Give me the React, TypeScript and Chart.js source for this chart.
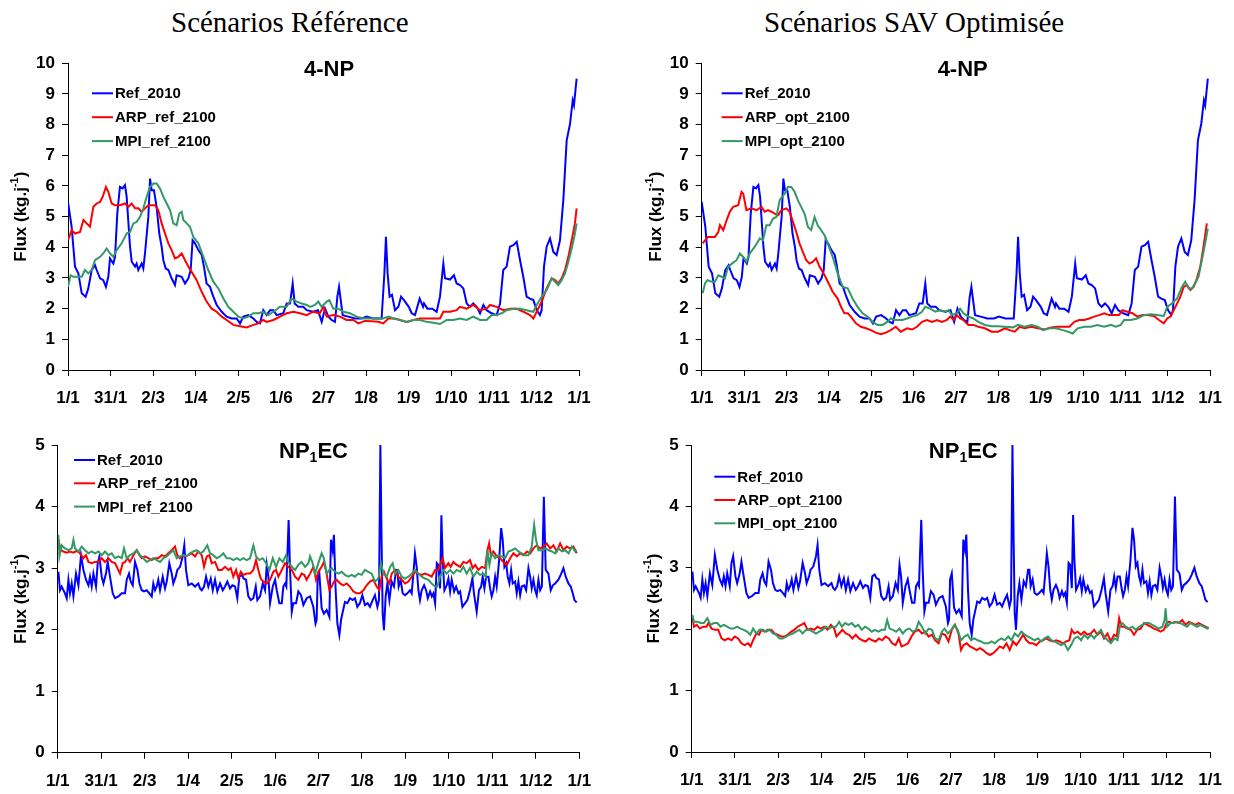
import React, { useEffect, useRef } from "react";
import { Chart, registerables } from "chart.js";

Chart.register(...registerables);

type Pt = [number, number];

const FONT = "'Liberation Sans', Arial, Helvetica, sans-serif";
const SERIF = "'Liberation Serif', 'Times New Roman', serif";

const xTickLabels = ["1/1", "31/1", "2/3", "1/4", "2/5", "1/6", "2/7", "1/8", "1/9", "1/10", "1/11", "1/12", "1/1"];
const daysInYear = 365;

const namesRef = ["Ref_2010", "ARP_ref_2100", "MPI_ref_2100"];
const namesOpt = ["Ref_2010", "ARP_opt_2100", "MPI_opt_2100"];
const seriesColors = ["#0000FF", "#FF0000", "#339966"];

// ---------- 4-NP ----------
const ref2010_4np: Pt[] = [[0,5.48],[2.6,4.67],[5,3.37],[7.4,3.15],[9.8,2.5],[12.6,2.39],[14.5,2.66],[16.9,3.26],[19.3,3.42],[20.5,3.26],[22.9,2.99],[25.2,2.93],[27.1,2.71],[28.8,3.04],[30,3.64],[32.4,3.47],[33.6,3.69],[35.2,5.1],[37.1,5.97],[39,5.92],[40.7,6.03],[41.9,5.65],[44.3,4.02],[45.5,3.53],[47.9,3.37],[49,3.47],[50.2,3.26],[52.6,3.47],[53.8,3.31],[55,3.8],[57.4,5.0],[58.6,6.24],[59.8,5.86],[61.4,5.86],[63.3,5.32],[65.2,4.45],[66.9,4.02],[68.1,3.58],[69.8,3.31],[71.7,3.26],[74,2.99],[76.4,2.77],[77.6,3.09],[81.2,3.04],[83.6,2.82],[86,2.99],[87.6,3.26],[89,4.23],[90.7,4.13],[93.1,3.91],[95.5,3.75],[97.1,3.37],[99,2.82],[101.4,2.71],[103.8,2.39],[106.2,2.12],[109.8,1.9],[113.3,1.74],[116.9,1.68],[120.5,1.68],[122.9,1.52],[125.2,1.74],[128.8,1.79],[132.4,1.68],[134.8,1.57],[137.1,1.52],[139.5,1.95],[141.9,1.79],[144.3,1.95],[146.7,1.95],[149,1.79],[153.8,1.85],[156.2,2.17],[158.6,2.17],[160.5,2.82],[161.9,2.17],[164.5,2.06],[168,2.06],[170.5,1.95],[175,1.9],[178.6,1.95],[181.2,1.57],[183.6,2.0],[186,1.74],[188.3,1.63],[190.7,1.57],[192.4,2.39],[193.6,2.71],[194.8,2.28],[196.2,1.79],[200.2,1.74],[205,1.68],[209.8,1.68],[213.3,1.74],[218,1.68],[224,1.68],[226,3.15],[227.1,4.34],[228.3,3.15],[229.7,2.39],[231.4,2.45],[233.6,1.95],[236,2.06],[237.9,2.39],[240,2.28],[243.4,2.06],[245.5,1.85],[247.9,1.79],[251.2,2.33],[253.6,2.06],[254.3,2.17],[256.7,2.0],[260.2,2.0],[263.3,1.9],[265.7,2.39],[268.1,3.47],[269.3,2.99],[272.9,2.95],[275.7,3.09],[277.6,2.82],[280,2.77],[282.4,2.66],[284.8,2.17],[287.1,2.06],[289.5,2.17],[291.9,2.06],[294.3,1.85],[296.7,2.12],[299,1.95],[302.6,1.85],[306.2,1.79],[308.6,2.17],[310.9,3.26],[313.3,3.37],[315.7,4.02],[318.1,4.07],[320.5,4.18],[322.9,3.58],[325.2,3.04],[327.6,2.39],[330,2.33],[332.4,2.28],[334.8,1.95],[337.1,1.79],[338.3,1.95],[340,3.37],[341.9,4.02],[344.3,4.29],[346.7,3.85],[349,3.75],[351.4,4.23],[353.8,5.54],[356.2,7.49],[358.6,8.03],[360.5,8.79],[361.4,8.63],[363.3,9.5]];

const arpRef_4np: Pt[] = [[0,4.23],[2.6,4.56],[5,4.45],[8.6,4.5],[11,4.89],[13.3,4.78],[15.7,4.67],[18.1,5.32],[20.5,5.43],[22.9,5.48],[24.8,5.65],[27.1,5.97],[28.8,5.81],[31.2,5.43],[33.6,5.37],[37.1,5.37],[40.7,5.43],[43.1,5.32],[45.5,5.43],[47.9,5.27],[50.2,5.27],[52.6,5.16],[55,5.27],[57.4,5.37],[59.8,5.37],[62.1,5.37],[64.5,5.21],[66.9,4.78],[69.3,4.45],[71.7,4.13],[74,3.91],[76.4,3.64],[78.8,3.69],[81.2,3.8],[83.6,3.58],[86,3.37],[88.3,3.2],[91.9,2.93],[95.5,2.55],[99,2.23],[102.6,2.0],[106.2,1.9],[109.8,1.74],[113.3,1.63],[118.1,1.47],[122.9,1.43],[127.6,1.39],[132.4,1.47],[136,1.52],[139.5,1.63],[141.9,1.57],[146.7,1.63],[151.4,1.74],[156.2,1.85],[161,1.9],[165.7,1.85],[170.5,1.79],[175,1.9],[179.8,1.85],[182.4,2.06],[184.8,1.74],[189.5,1.79],[194.3,1.74],[199,1.63],[203.8,1.63],[207.4,1.52],[212.1,1.6],[216.9,1.59],[221.7,1.57],[225.2,1.52],[228.8,1.68],[233.6,1.68],[237.1,1.63],[241.9,1.57],[246.7,1.63],[251.4,1.68],[256.2,1.68],[260.9,1.68],[265.7,1.68],[268.1,1.9],[272.9,1.9],[277.6,1.95],[280,2.06],[284.8,2.0],[289.5,2.12],[294.3,1.95],[299,2.0],[301.4,2.12],[306.2,2.06],[310.9,1.95],[315.7,2.0],[320.5,2.0],[325.2,1.9],[330,1.79],[332.4,1.68],[334.8,1.9],[338.3,2.23],[341.9,2.66],[345.5,2.99],[347.9,2.93],[350.2,2.82],[352.6,2.99],[355,3.26],[357.4,3.69],[359.8,4.23],[362.1,4.78],[363.3,5.27]];

const mpiRef_4np: Pt[] = [[0,2.71],[1.9,3.09],[3.8,3.04],[7.4,3.04],[9.8,3.04],[12.1,3.26],[14.5,3.15],[16.9,3.26],[19.3,3.58],[22.9,3.69],[25.2,3.8],[27.6,3.96],[30,3.8],[32.4,3.69],[34.8,3.91],[38.3,4.13],[41.9,4.45],[44.3,4.5],[46.7,4.78],[49,4.83],[51.4,4.99],[53.8,5.27],[56.2,5.65],[58.6,5.97],[61,6.08],[63.3,6.08],[65.7,5.92],[68.1,5.65],[70.5,5.43],[72.9,5.21],[75.2,4.78],[77.6,4.72],[79.5,5.1],[81.2,5.16],[82.4,4.89],[84.8,4.78],[87.1,4.67],[89.5,4.34],[93.1,4.13],[96.7,3.69],[100.2,3.26],[103.8,2.88],[107.4,2.66],[111,2.33],[114.5,2.06],[118.1,1.9],[121.7,1.74],[125.2,1.68],[128.8,1.74],[132.4,1.85],[136,1.85],[139.5,1.9],[143.1,1.79],[146.7,1.9],[151.4,2.06],[156.2,2.06],[159.8,2.33],[163.3,2.23],[166.9,2.17],[170.5,2.12],[172.9,2.06],[176.4,2.12],[178.8,2.23],[181.2,2.06],[184.8,2.23],[186.7,2.28],[189.5,2.0],[193,2.0],[196.7,1.9],[201.4,1.85],[206.2,1.74],[211,1.68],[220.5,1.68],[225.2,1.68],[228.8,1.74],[232.4,1.68],[237.1,1.63],[241.9,1.57],[246.7,1.63],[251.4,1.63],[256.2,1.57],[260.9,1.54],[265.7,1.5],[270.5,1.63],[275.2,1.63],[280,1.68],[284.8,1.63],[289.5,1.74],[294.3,1.63],[299,1.63],[302.6,1.79],[306.2,1.79],[309.8,1.85],[313.3,1.95],[318.1,2.0],[322.9,2.0],[327.6,1.95],[332.4,1.9],[334.8,2.12],[338.3,2.39],[341.9,2.61],[345.5,2.99],[347.9,2.88],[350.2,2.77],[352.6,2.93],[355,3.15],[357.4,3.53],[359.8,3.96],[362.1,4.45],[363.3,4.78]];

const arpOpt_4np: Pt[] = [[0.7,4.13],[2.4,4.23],[4.4,4.34],[6,4.34],[9.5,4.34],[11.9,4.5],[13.1,4.72],[15.5,4.56],[17.9,4.89],[20.2,5.16],[22.6,5.32],[26.2,5.37],[28.6,5.81],[29.8,5.75],[32.1,5.21],[35.7,5.27],[39.3,5.21],[42.9,5.32],[45.2,5.16],[47.6,5.21],[50,5.16],[52.4,5.1],[54.8,5.05],[57.1,5.21],[60.7,5.27],[63.1,5.16],[65.5,4.83],[67.9,4.5],[70.2,4.13],[72.6,3.85],[75,3.58],[77.4,3.47],[79.8,3.53],[82.1,3.64],[84.5,3.37],[86.9,3.2],[89.3,2.99],[91.7,2.77],[94,2.55],[97.6,2.33],[100,2.06],[102.4,1.85],[104.8,1.85],[107.1,1.74],[110.7,1.52],[114.3,1.41],[117.9,1.36],[121.4,1.3],[125,1.22],[128.6,1.17],[132.1,1.22],[135.7,1.3],[139.3,1.41],[142.9,1.25],[147.4,1.36],[151,1.32],[154.6,1.41],[158.1,1.57],[161.7,1.63],[165.3,1.57],[168.9,1.63],[172.4,1.57],[176,1.63],[178.4,1.74],[180.8,1.63],[183.1,1.79],[185.5,1.68],[187.9,1.63],[191.4,1.47],[195,1.47],[198.6,1.41],[203.3,1.36],[208.1,1.25],[212.8,1.25],[217.6,1.36],[221.1,1.3],[224.7,1.25],[228.3,1.41],[231.8,1.36],[236.6,1.41],[241.3,1.36],[246.1,1.32],[250.8,1.39],[255.6,1.41],[260.4,1.41],[263.9,1.41],[267.5,1.57],[271,1.63],[274.6,1.63],[278.2,1.68],[281.8,1.74],[285.4,1.79],[288.9,1.85],[292.5,1.79],[296.1,1.79],[299.6,1.79],[302,1.95],[305.6,1.9],[309.2,1.85],[312.7,1.74],[316.3,1.79],[319.8,1.79],[324.6,1.76],[328.2,1.63],[331.7,1.52],[334.1,1.68],[336.5,1.74],[340.1,2.06],[343.6,2.39],[346,2.71],[348.4,2.77],[350.8,2.61],[353.1,2.71],[355.5,2.99],[357.9,3.37],[360.2,4.02],[362.6,4.78]];

const mpiOpt_4np: Pt[] = [[0.7,2.5],[2.4,2.82],[4.1,2.93],[7.1,2.88],[9.5,2.88],[11.9,3.09],[14.3,3.04],[16.7,2.99],[19,3.37],[22.6,3.5],[25,3.58],[27.4,3.8],[29.8,3.69],[32.1,3.53],[34.5,3.8],[38.1,4.02],[41.7,4.29],[44,4.23],[46.4,4.72],[48.8,4.72],[51.2,4.94],[53.6,4.99],[56,5.54],[59.5,5.75],[61.9,5.97],[64.3,5.97],[66.7,5.81],[69,5.54],[71.4,5.32],[73.8,5.1],[76.2,4.67],[78.6,4.56],[81,4.99],[83.3,4.72],[85.7,4.56],[88.1,4.4],[90.5,4.13],[94,3.69],[97.6,3.15],[101.2,2.71],[104.8,2.66],[108.3,2.33],[111.9,2.06],[115.5,1.85],[119,1.74],[122.6,1.57],[126.2,1.47],[129.8,1.47],[133.3,1.57],[135.7,1.68],[139.3,1.63],[143.8,1.63],[147.4,1.68],[151,1.74],[154.6,1.79],[158.1,1.9],[160.4,2.06],[164,2.0],[167.6,1.9],[171.1,1.95],[174.6,1.9],[177.2,1.95],[179.5,1.79],[183.1,1.85],[185.5,2.0],[187.9,1.85],[191.4,1.74],[195,1.68],[198.6,1.57],[203.3,1.47],[208.1,1.43],[212.8,1.43],[217.6,1.41],[223.5,1.39],[227.1,1.47],[231.8,1.41],[236.6,1.47],[241.3,1.41],[244.9,1.3],[249.7,1.36],[254.4,1.36],[259.2,1.3],[262.7,1.25],[266.3,1.19],[269.9,1.36],[274.6,1.41],[279.4,1.41],[284.1,1.47],[288.9,1.41],[293.7,1.47],[297.2,1.41],[300.8,1.47],[303.2,1.63],[307.9,1.63],[312.7,1.68],[317.4,1.79],[322.2,1.82],[326.9,1.79],[331.7,1.76],[334.1,2.06],[337.6,2.17],[341.2,2.33],[344.7,2.71],[347.1,2.88],[349.5,2.66],[351.9,2.66],[354.2,2.82],[356.6,3.04],[359,3.58],[361.4,4.13],[363.3,4.61]];

// ---------- NP1EC ----------
const ref2010_np1ec: Pt[] = [[0.5,2.94],[1.6,2.64],[2.8,2.7],[5.1,2.59],[6.3,2.51],[7.5,2.81],[8.6,2.59],[9.8,2.75],[11,2.54],[12.8,2.91],[14.5,2.72],[16.3,3.21],[18,2.97],[19.8,2.81],[21.5,2.72],[22.6,2.86],[23.8,2.7],[25,2.91],[26.8,2.7],[28,3.08],[29.2,3.19],[30.8,2.86],[32,2.75],[33.8,2.91],[35,3.1],[36.6,2.86],[38.5,2.59],[40.1,2.51],[42.5,2.54],[44.8,2.59],[47.1,2.59],[48.3,2.81],[49.9,2.91],[51.1,2.78],[52.5,2.72],[54.1,3.1],[55.8,2.97],[57.2,2.75],[58.8,2.64],[60.4,2.62],[62.3,2.64],[64.1,2.59],[65.8,2.54],[66.9,2.75],[68.1,2.64],[69.3,2.7],[70.4,2.81],[71.6,2.64],[73.5,2.86],[75.1,2.67],[76.3,2.78],[78.1,3.08],[79.8,2.91],[80.9,2.75],[82.6,2.86],[83.7,2.97],[85.6,3.02],[87.5,3.19],[88.6,3.37],[89.8,2.97],[91.4,2.72],[93.8,2.75],[96.1,2.7],[98.4,2.75],[99.6,2.67],[100.8,2.64],[102.4,2.7],[103.8,2.86],[105.4,2.7],[107.1,2.83],[108.5,2.64],[110.1,2.81],[111.7,2.62],[113.6,2.75],[115.5,2.64],[117.1,2.7],[118.7,2.78],[120.6,2.67],[122.2,2.72],[124.1,2.7],[125.7,2.51],[127.1,2.86],[128.8,2.89],[130.1,2.83],[131.8,2.81],[133.4,2.54],[135.1,2.48],[136.9,2.51],[138.6,2.7],[139.7,2.48],[141.6,2.54],[143.5,2.75],[145.1,2.64],[146.3,3.05],[147.4,2.86],[148.6,2.43],[150.5,2.7],[152.1,2.81],[153.3,2.64],[155.1,2.43],[156.8,2.43],[157.9,2.7],[159.1,2.75],[160,2.7],[160.7,3.19],[161.6,3.78],[162.6,2.97],[163.8,2.29],[164.9,2.43],[166.8,2.43],[168.4,2.62],[170.3,2.56],[171.9,2.4],[174.2,2.51],[176.6,2.54],[178.9,2.37],[180.4,2.1],[181.2,2.16],[181.9,2.81],[183.1,2.91],[184.7,2.35],[186.3,2.26],[188.2,2.32],[190.1,2.21],[191.2,3.46],[192.4,3.29],[193.3,3.54],[194.5,2.64],[195.7,2.1],[197.1,1.91],[198.3,2.16],[199.5,2.29],[201,2.45],[202.7,2.43],[204.5,2.51],[206.4,2.48],[208,2.51],[209.7,2.37],[211.5,2.43],[213.2,2.56],[215,2.4],[216.9,2.43],[218.5,2.37],[220.4,2.48],[222,2.56],[223.7,2.37],[224.8,2.48],[225.8,5.0],[226.7,3.35],[227.4,2.26],[228.3,1.99],[229.5,2.54],[230.7,2.75],[232.1,2.48],[233.7,2.78],[235.3,2.7],[236.8,2.97],[237.7,2.97],[238.6,2.7],[240,2.81],[241.4,2.59],[243,2.56],[244.7,2.59],[246.5,2.64],[247.7,2.59],[248.9,2.91],[250,3.24],[251.2,3.02],[252.4,2.64],[253.5,2.48],[254.7,2.64],[256.4,2.72],[257.8,2.64],[259,2.51],[260.6,2.62],[261.8,2.54],[262.9,2.59],[264.1,2.43],[265.3,3.08],[266.4,3.05],[267.6,2.67],[268.5,3.86],[269.4,3.13],[270.6,2.64],[272.2,2.72],[273.4,2.83],[274.6,2.62],[275.7,2.81],[277.4,2.62],[278.8,2.7],[280.4,2.59],[281.6,2.62],[283.2,2.37],[285.1,2.43],[286.7,2.48],[288.5,2.64],[290.2,2.83],[291.3,2.59],[293.2,2.29],[294.8,2.64],[296.3,2.7],[297.4,2.86],[298.6,2.67],[299.8,2.86],[301.4,2.86],[302.6,2.67],[303.7,2.54],[304.9,2.64],[306.1,2.86],[307.2,2.7],[308.9,3.13],[310.3,3.65],[311.4,3.46],[312.6,3.02],[313.8,3.08],[314.9,2.86],[316.1,2.75],[317.3,2.97],[318.4,2.75],[320.1,2.78],[321.2,2.59],[322.4,2.78],[323.6,2.56],[324.7,2.7],[326.4,2.72],[327.8,2.64],[329.4,3.0],[330.6,2.86],[331.7,2.67],[332.9,2.81],[334.1,2.64],[335.2,2.56],[336.4,2.81],[337.6,2.64],[338.8,2.7],[340.2,4.16],[341.5,2.97],[343.4,2.91],[345,2.64],[346.5,2.72],[348.1,2.75],[350.4,2.81],[352,2.89],[353.9,3.0],[355.5,2.86],[357.4,2.75],[359,2.7],[360.4,2.59],[361.6,2.48],[363.2,2.44]];

const arpRef_np1ec: Pt[] = [[0.5,3.46],[2.1,3.29],[4,3.27],[6.3,3.25],[8.6,3.27],[11,3.25],[13.3,3.28],[15.6,3.24],[18,3.16],[19.8,3.21],[21.5,3.1],[23.8,3.08],[26.1,3.1],[28.5,3.1],[30.8,3.16],[33.1,3.1],[35.5,3.16],[37.8,3.1],[40.1,3.08],[41.8,3.0],[43.6,2.91],[45.5,3.08],[47.1,3.1],[48.8,3.16],[50.6,3.1],[53,3.21],[55.3,3.29],[57.2,3.21],[58.8,3.16],[61.1,3.19],[63.4,3.16],[65.8,3.13],[68.1,3.16],[70.4,3.16],[72.8,3.21],[75.1,3.19],[77.4,3.24],[79.8,3.29],[82.1,3.35],[83.7,3.21],[85.6,3.16],[87.5,3.21],[89.1,3.19],[91.4,3.21],[93.8,3.24],[96.1,3.19],[98.4,3.27],[100.8,3.21],[102.4,3.02],[104.3,3.19],[106.1,3.21],[107.8,3.08],[110.1,3.1],[112.4,2.97],[114.8,2.97],[117.1,3.02],[119.4,2.97],[121.1,3.0],[122.9,2.86],[124.8,2.97],[126.4,2.83],[128.1,2.94],[129.9,2.89],[132.3,2.91],[134.6,2.91],[136.9,2.97],[138.8,3.13],[140.4,2.97],[142.1,2.83],[143.9,2.78],[146.3,2.75],[148.6,2.81],[150.9,2.94],[152.8,2.97],[154.4,2.86],[156.8,2.97],[159.1,3.08],[161.4,3.02],[163.8,2.97],[166.1,2.86],[168.4,2.81],[170.7,2.91],[172.5,2.89],[174.2,2.81],[176.6,2.91],[178.9,3.02],[180.8,2.81],[182.4,2.94],[184.7,3.02],[186.3,3.1],[188.2,2.91],[190.1,2.64],[191.7,2.7],[193.3,2.78],[195.2,2.81],[197.6,2.75],[199.9,2.72],[202.2,2.75],[204.5,2.7],[206.9,2.62],[209.2,2.59],[211.5,2.59],[213.9,2.64],[216.2,2.72],[218.5,2.78],[220.9,2.81],[223.2,2.7],[225.1,2.64],[226.7,2.86],[228.3,2.94],[230.2,2.83],[232.1,2.75],[233.7,2.91],[236.1,2.97],[238.4,2.86],[240.7,2.81],[243.1,2.75],[245.4,2.78],[247.7,2.86],[250,2.94],[252.4,2.91],[254.7,2.89],[257,2.91],[259.4,2.89],[261.7,2.86],[264.1,2.97],[266.4,2.97],[268,3.08],[269.4,3.16],[271,3.0],[273.4,3.08],[275,3.02],[276.9,3.1],[279.2,3.05],[281.6,3.02],[283.9,3.1],[286.2,3.08],[288.5,3.13],[290.4,3.0],[292.1,3.05],[294.4,2.97],[296.7,3.02],[299.1,3.0],[300.7,3.29],[301.9,3.4],[303.1,3.21],[304.9,3.27],[307.2,3.19],[309.6,3.16],[311.9,3.1],[314.3,3.05],[316.6,3.16],[318.9,3.24],[321.3,3.19],[323.6,3.24],[326,3.21],[328.3,3.27],[330.6,3.24],[332.9,3.32],[335.2,3.37],[337.6,3.32],[339.9,3.35],[342.2,3.4],[344.6,3.32],[346.9,3.37],[349.2,3.27],[351.6,3.4],[353.9,3.29],[356.2,3.35],[358.6,3.32],[360.9,3.35],[363.2,3.24]];

const mpiRef_np1ec: Pt[] = [[0.5,3.54],[1.2,3.19],[2.8,3.37],[5.1,3.32],[7.5,3.29],[9.8,3.32],[11,3.46],[12.1,3.32],[14.5,3.27],[16.8,3.35],[19.1,3.29],[21.5,3.24],[23.8,3.27],[26.1,3.24],[28.5,3.27],[30.8,3.21],[33.1,3.27],[35.5,3.21],[37.8,3.24],[40.1,3.16],[42.5,3.19],[44.8,3.16],[46.4,3.32],[48.3,3.16],[50.6,3.21],[53,3.24],[55.3,3.29],[57.6,3.21],[59.9,3.16],[62.3,3.1],[64.6,3.13],[66.9,3.16],[69.3,3.13],[71.6,3.1],[73.9,3.16],[76.3,3.19],[78.6,3.24],[80.9,3.29],[83.3,3.16],[85.6,3.19],[87.9,3.21],[90.3,3.19],[92.6,3.24],[94.9,3.27],[97.3,3.29],[99.6,3.24],[101.9,3.27],[104.7,3.37],[106.6,3.24],[108.9,3.21],[111.3,3.16],[113.6,3.19],[115.9,3.24],[118.3,3.16],[120.6,3.16],[122.9,3.13],[125.3,3.16],[127.6,3.13],[129.9,3.16],[132.3,3.13],[134.6,3.16],[136.9,3.37],[138.8,3.19],[141.1,3.13],[143.5,3.16],[145.8,3.08],[148.1,2.97],[150.5,3.16],[152.8,3.02],[155.1,3.16],[157.5,3.1],[159.8,3.21],[161.4,3.1],[163.8,3.02],[166.1,2.97],[168.4,3.05],[170.7,3.1],[173.1,3.02],[175.4,3.08],[176.6,3.19],[178.4,3.08],[180.1,2.91],[182.4,3.08],[184.7,3.24],[186.3,3.16],[188.2,2.91],[190.1,2.97],[191.7,3.0],[194,2.94],[196.4,2.91],[198.7,2.94],[201,2.89],[203.4,2.86],[205.7,2.89],[208,2.86],[210.4,2.91],[212.7,2.89],[215,2.97],[217.4,2.94],[219.7,2.91],[222,2.78],[224.4,2.83],[226.2,3.08],[227.9,2.91],[230.2,2.86],[232.6,3.02],[234.4,3.08],[236.1,2.91],[238.4,2.97],[240.7,2.86],[243.1,2.83],[245.4,2.86],[247.7,2.91],[250,2.97],[252.4,2.91],[254.7,2.86],[257,2.83],[259.4,2.81],[261.7,2.75],[264.1,2.7],[265.7,2.7],[267.5,2.86],[269.9,2.97],[272.2,2.91],[274.6,2.97],[276.9,2.91],[279.2,2.97],[281.6,2.94],[283.9,3.02],[286.2,2.91],[288.5,3.0],[290.9,2.86],[293.2,2.94],[295.5,2.89],[297.9,2.91],[299.5,2.86],[300.7,3.29],[302.1,3.05],[303.7,3.24],[306.1,3.16],[308.4,3.21],[310.7,3.19],[313.1,3.16],[315.4,3.27],[317.8,3.29],[320.1,3.32],[322.4,3.27],[324.7,3.24],[327.1,3.21],[329.4,3.21],[331.7,3.35],[333.4,3.7],[334.7,3.46],[336.4,3.29],[338.8,3.29],[341.1,3.32],[343.4,3.29],[345.8,3.27],[348.1,3.24],[350.4,3.32],[352.8,3.27],[355.1,3.29],[357.5,3.24],[359.8,3.35],[362.1,3.27],[363.2,3.29]];

const arpOpt_np1ec: Pt[] = [[0.5,2.2],[1.6,2.04],[3.5,2.07],[5.8,2.01],[8.2,2.04],[10.5,2.04],[11.7,2.1],[14,2.01],[16.3,1.99],[18.7,1.99],[21,1.85],[23.3,1.82],[25.7,1.85],[28,1.82],[30.3,1.88],[32.7,1.85],[35,1.77],[37.3,1.74],[39.7,1.77],[41.5,1.72],[43.2,1.82],[45.5,1.93],[47.4,1.91],[49,1.99],[51.3,1.96],[53.7,1.99],[56,1.99],[58.3,1.93],[60.6,1.91],[63,1.88],[65.3,1.88],[67.6,1.91],[70,1.96],[72.3,1.99],[74.6,2.04],[77,2.07],[79.3,2.1],[81.6,1.99],[84,2.01],[86.3,1.99],[88.6,2.04],[91,2.01],[93.3,2.04],[95.6,1.99],[98,2.07],[100.3,2.01],[101.9,1.88],[103.8,1.93],[106.1,1.99],[108.5,1.93],[110.8,1.91],[113.1,1.85],[115.5,1.91],[117.8,1.85],[120.1,1.82],[122.5,1.8],[124.8,1.85],[127.1,1.82],[129.5,1.8],[131.8,1.85],[134.1,1.82],[136.5,1.88],[138.8,1.85],[141.1,1.77],[143.5,1.74],[145.8,1.85],[147.7,1.72],[150,1.74],[152.3,1.77],[154.7,1.88],[157,1.96],[159.8,1.99],[162.1,1.93],[164.4,1.96],[166.8,1.88],[169.1,1.91],[171.4,1.82],[173.8,1.77],[176.1,1.93],[178.4,1.91],[180.8,1.8],[183.1,1.99],[185.4,2.07],[187.8,1.93],[189.6,1.66],[191.3,1.74],[193.6,1.77],[195.9,1.72],[198.3,1.69],[200.6,1.66],[202.9,1.69],[205.2,1.66],[207.6,1.61],[209.9,1.58],[212.3,1.61],[214.6,1.66],[216.9,1.72],[219.3,1.69],[221.6,1.77],[223.9,1.66],[226.3,1.8],[228.6,1.74],[230.9,1.82],[233.3,1.91],[235.6,1.82],[237.9,1.77],[240.3,1.77],[242.6,1.74],[244.9,1.8],[247.3,1.82],[249.6,1.85],[251.9,1.82],[254.3,1.8],[256.6,1.82],[258.9,1.8],[261.3,1.77],[263.6,1.8],[265.9,1.82],[267.5,1.99],[269.3,1.93],[271.7,1.96],[274,1.91],[276.3,1.96],[278.6,1.91],[281,1.93],[283.3,1.99],[285.6,1.91],[288,1.96],[290.3,1.85],[292.7,1.93],[295,1.8],[297.3,1.91],[299.2,1.88],[300.9,2.18],[302.5,2.04],[304.4,2.04],[306.7,2.01],[309.1,1.99],[311.4,1.91],[313.7,1.99],[316.1,2.01],[318.4,2.1],[320.7,2.07],[323.1,2.04],[325.4,2.01],[327.8,1.99],[330.1,1.96],[332.4,1.99],[334.3,2.1],[335.9,2.12],[338.3,2.1],[340.6,2.12],[342.9,2.1],[345.3,2.15],[347.6,2.07],[349.9,2.12],[352.3,2.1],[354.6,2.07],[356.9,2.1],[359.3,2.07],[361.6,2.04],[363.9,2.01]];

const mpiOpt_np1ec: Pt[] = [[0.5,2.23],[1.6,2.12],[4,2.12],[6.3,2.1],[8.6,2.1],[11,2.18],[13.3,2.07],[15.6,2.1],[18,2.1],[20.3,2.04],[22.6,2.07],[25,2.04],[27.3,2.01],[29.6,2.01],[32,2.04],[34.3,2.01],[36.6,1.99],[39,1.96],[41.3,1.91],[43.2,2.01],[45.5,1.93],[47.8,1.99],[50.1,1.99],[52.5,1.96],[54.8,1.99],[57.1,1.93],[59.5,1.91],[61.8,1.85],[64.1,1.85],[66.5,1.88],[68.8,1.91],[71.1,1.93],[73.5,1.96],[75.8,1.99],[78.1,1.93],[80.5,1.99],[82.8,1.99],[85.1,1.96],[87.5,1.93],[89.8,1.96],[92.1,1.99],[94.5,2.04],[96.8,2.01],[99.1,2.04],[101.5,2.04],[103.8,2.12],[105.7,2.04],[108,2.1],[110.3,2.07],[112.7,2.1],[115,2.04],[117.3,2.07],[119.7,1.99],[122,2.04],[124.3,2.01],[126.7,1.96],[129,1.99],[131.3,1.96],[133.7,1.99],[136,1.99],[137.6,2.15],[139.3,2.01],[141.6,1.99],[143.9,1.96],[146.3,2.01],[148.6,1.93],[150.9,1.99],[153.3,2.01],[155.6,1.96],[157.9,1.99],[159.8,2.12],[162.1,2.04],[164.4,1.93],[166.8,2.01],[169.1,1.99],[171.4,1.85],[173.8,1.82],[176.1,1.96],[178,2.01],[180.3,1.93],[182.7,1.99],[185,2.07],[187.3,1.99],[189.6,1.82],[192,1.88],[194.3,1.91],[196.6,1.82],[199,1.85],[201.3,1.82],[203.6,1.8],[206,1.77],[208.8,1.77],[211.1,1.8],[213.4,1.77],[215.8,1.82],[218.1,1.85],[220.4,1.82],[222.8,1.88],[225.1,1.82],[227.4,1.93],[229.8,1.88],[232.1,1.96],[234.4,1.91],[236.8,1.88],[239.1,1.85],[241.4,1.82],[243.8,1.85],[246.1,1.8],[248.4,1.85],[250.8,1.88],[253.1,1.82],[255.4,1.8],[257.8,1.77],[260.1,1.74],[262.4,1.77],[264.8,1.66],[267.1,1.74],[269.4,1.85],[271.8,1.88],[274.1,1.82],[276.4,1.91],[278.8,1.85],[281.1,1.91],[283.4,1.85],[285.8,1.93],[288.1,1.99],[290.4,1.88],[292.8,1.82],[295.1,1.77],[297.4,1.85],[299.8,1.82],[301.6,2.07],[303.2,2.1],[305.6,2.04],[307.9,2.01],[310.2,2.04],[312.6,1.99],[314.9,2.04],[317.2,2.07],[319.6,2.1],[321.9,2.1],[324.2,2.07],[326.6,2.04],[328.9,2.01],[331.3,2.04],[332.9,2.15],[333.6,2.34],[334.7,2.04],[337.1,2.1],[339.4,2.1],[341.7,2.12],[344.1,2.1],[346.4,2.07],[348.7,2.04],[351.1,2.1],[353.4,2.07],[355.8,2.04],[358.1,2.07],[360.4,2.04],[362.8,2.01],[363.9,2.04]];

// ---------- layout ----------
type TitlePart = { text: string; sub?: boolean };

interface PanelSpec {
  key: string;
  canvas: { left: number; top: number; w: number; h: number };
  area: { left: number; top: number; right: number; bottom: number };
  yMax: number;
  title: TitlePart[];
  titleX: number;
  titleBaseline: number;
  legendX: number;
  legendY0: number;
  legendDy: number;
  yTitleX: number;
  series: Pt[][];
  names: string[];
}

const title4np: TitlePart[] = [{ text: "4-NP" }];
const titleNp1ec: TitlePart[] = [{ text: "NP" }, { text: "1", sub: true }, { text: "EC" }];

const panels: PanelSpec[] = [
  {
    key: "tl",
    canvas: { left: 0, top: 40, w: 610, h: 380 },
    area: { left: 68, top: 63.3, right: 579, bottom: 370 },
    yMax: 10, title: title4np, titleX: 329, titleBaseline: 36,
    legendX: 92, legendY0: 53.3, legendDy: 23.9, yTitleX: 20,
    series: [ref2010_4np, arpRef_4np, mpiRef_4np], names: namesRef,
  },
  {
    key: "tr",
    canvas: { left: 620, top: 40, w: 614, h: 380 },
    area: { left: 701.7, top: 63.3, right: 1213.3, bottom: 370 },
    yMax: 10, title: title4np, titleX: 342.7, titleBaseline: 36,
    legendX: 101.7, legendY0: 53.3, legendDy: 23.9, yTitleX: 35,
    series: [ref2010_4np, arpOpt_4np, mpiOpt_4np], names: namesOpt,
  },
  {
    key: "bl",
    canvas: { left: 0, top: 425, w: 610, h: 369 },
    area: { left: 57.7, top: 445, right: 579.3, bottom: 752.7 },
    yMax: 5, title: titleNp1ec, titleX: 313.5, titleBaseline: 33.3,
    legendX: 74, legendY0: 35, legendDy: 23.3, yTitleX: 20,
    series: [ref2010_np1ec, arpRef_np1ec, mpiRef_np1ec], names: namesRef,
  },
  {
    key: "br",
    canvas: { left: 620, top: 425, w: 614, h: 369 },
    area: { left: 691.7, top: 445, right: 1213.3, bottom: 752 },
    yMax: 5, title: titleNp1ec, titleX: 343.3, titleBaseline: 33.3,
    legendX: 94.3, legendY0: 51.7, legendDy: 23.3, yTitleX: 33,
    series: [ref2010_np1ec, arpOpt_np1ec, mpiOpt_np1ec], names: namesOpt,
  },
];

const overlayPlugin = {
  id: "overlay",
  afterDraw(chart: any, _args: any, opts: any) {
    const ctx: CanvasRenderingContext2D = chart.ctx;
    const { top, bottom } = chart.chartArea;
    ctx.save();
    // panel title
    const tSize = 22;
    const big = `bold ${tSize}px ${FONT}`;
    const small = `bold ${Math.round(tSize * 0.62)}px ${FONT}`;
    const parts: TitlePart[] = opts.title || [];
    let total = 0;
    for (const p of parts) {
      ctx.font = p.sub ? small : big;
      total += ctx.measureText(p.text).width;
    }
    let x = opts.titleX - total / 2;
    ctx.fillStyle = "#000";
    ctx.textBaseline = "alphabetic";
    ctx.textAlign = "left";
    for (const p of parts) {
      ctx.font = p.sub ? small : big;
      ctx.fillText(p.text, x, opts.titleBaseline + (p.sub ? 4 : 0));
      x += ctx.measureText(p.text).width;
    }
    // legend
    ctx.font = `bold 15px ${FONT}`;
    ctx.textBaseline = "middle";
    chart.data.datasets.forEach((ds: any, i: number) => {
      const y = opts.legendY0 + i * opts.legendDy;
      ctx.strokeStyle = ds.borderColor;
      ctx.lineWidth = 2;
      ctx.beginPath();
      ctx.moveTo(opts.legendX, y);
      ctx.lineTo(opts.legendX + 21, y);
      ctx.stroke();
      ctx.fillStyle = "#000";
      ctx.fillText(ds.label, opts.legendX + 23, y + 1);
    });
    // rotated y title with superscript
    const main = `bold 17px ${FONT}`;
    const sup = `bold 11px ${FONT}`;
    const segs = [
      { t: "Flux (kg.j", f: main, dy: 0 },
      { t: "-1", f: sup, dy: -6 },
      { t: ")", f: main, dy: 0 },
    ];
    let w = 0;
    for (const s of segs) { ctx.font = s.f; w += ctx.measureText(s.t).width; }
    ctx.translate(opts.yTitleX, (top + bottom) / 2);
    ctx.rotate(-Math.PI / 2);
    ctx.textBaseline = "middle";
    let sx = -w / 2;
    for (const s of segs) {
      ctx.font = s.f;
      ctx.fillText(s.t, sx, s.dy + 1);
      sx += ctx.measureText(s.t).width;
    }
    ctx.restore();
  },
};

function Panel({ spec }: { spec: PanelSpec }) {
  const ref = useRef<HTMLCanvasElement | null>(null);
  useEffect(() => {
    if (!ref.current) return;
    const { canvas, area } = spec;
    const yWidth = area.left - canvas.left;
    const xHeight = canvas.top + canvas.h - area.bottom;
    const padTop = area.top - canvas.top;
    const padRight = canvas.left + canvas.w - area.right;
    const orders = [3, 2, 1];
    const chart = new Chart(ref.current, {
      type: "line",
      data: {
        datasets: spec.series.map((s, i) => ({
          label: spec.names[i],
          data: s.map(([x, y]) => ({ x, y })),
          borderColor: seriesColors[i],
          backgroundColor: seriesColors[i],
          borderWidth: 2,
          pointRadius: 0,
          tension: 0,
          fill: false,
          order: orders[i],
        })),
      },
      options: {
        responsive: false,
        animation: false,
        events: [],
        layout: { padding: { left: 0, top: padTop, right: padRight, bottom: 0 } },
        plugins: {
          legend: { display: false },
          title: { display: false },
          tooltip: { enabled: false },
          overlay: {
            title: spec.title,
            titleX: spec.titleX,
            titleBaseline: spec.titleBaseline,
            legendX: spec.legendX,
            legendY0: spec.legendY0,
            legendDy: spec.legendDy,
            yTitleX: spec.yTitleX,
          },
        } as any,
        scales: {
          x: {
            type: "linear",
            min: 0,
            max: daysInYear,
            afterBuildTicks: (scale: any) => {
              scale.ticks = xTickLabels.map((_, i) => ({ value: (i * daysInYear) / (xTickLabels.length - 1) }));
            },
            afterFit: (scale: any) => { scale.height = xHeight; },
            ticks: {
              autoSkip: false,
              maxRotation: 0,
              padding: 12,
              color: "#000",
              font: { family: FONT, size: 17, weight: "bold" },
              callback: (_v: any, idx: number) => xTickLabels[idx],
            },
            grid: { display: true, drawOnChartArea: false, drawTicks: true, tickLength: 6, color: "#000" },
            border: { display: true, color: "#000", width: 1 },
          },
          y: {
            type: "linear",
            min: 0,
            max: spec.yMax,
            afterFit: (scale: any) => { scale.width = yWidth; },
            ticks: {
              stepSize: 1,
              padding: 7,
              color: "#000",
              font: { family: FONT, size: 17, weight: "bold" },
            },
            grid: { display: true, drawOnChartArea: false, drawTicks: true, tickLength: 6, color: "#000" },
            border: { display: true, color: "#000", width: 1 },
          },
        },
      },
      plugins: [overlayPlugin as any],
    });
    return () => chart.destroy();
  }, [spec]);
  return (
    <canvas
      ref={ref}
      width={spec.canvas.w}
      height={spec.canvas.h}
      style={{ position: "absolute", left: spec.canvas.left, top: spec.canvas.top, width: spec.canvas.w, height: spec.canvas.h }}
    />
  );
}

const headStyle: React.CSSProperties = {
  position: "absolute",
  top: 8,
  fontFamily: SERIF,
  fontSize: 29,
  lineHeight: "29px",
  whiteSpace: "nowrap",
  color: "#000",
};

export default function App() {
  return (
    <div style={{ position: "absolute", left: 0, top: 0, width: 1234, height: 794, background: "#fff", overflow: "hidden" }}>
      <div style={{ ...headStyle, left: 171 }}>Scénarios Référence</div>
      <div style={{ ...headStyle, left: 764 }}>Scénarios SAV Optimisée</div>
      {panels.map((p) => (
        <Panel key={p.key} spec={p} />
      ))}
    </div>
  );
}
